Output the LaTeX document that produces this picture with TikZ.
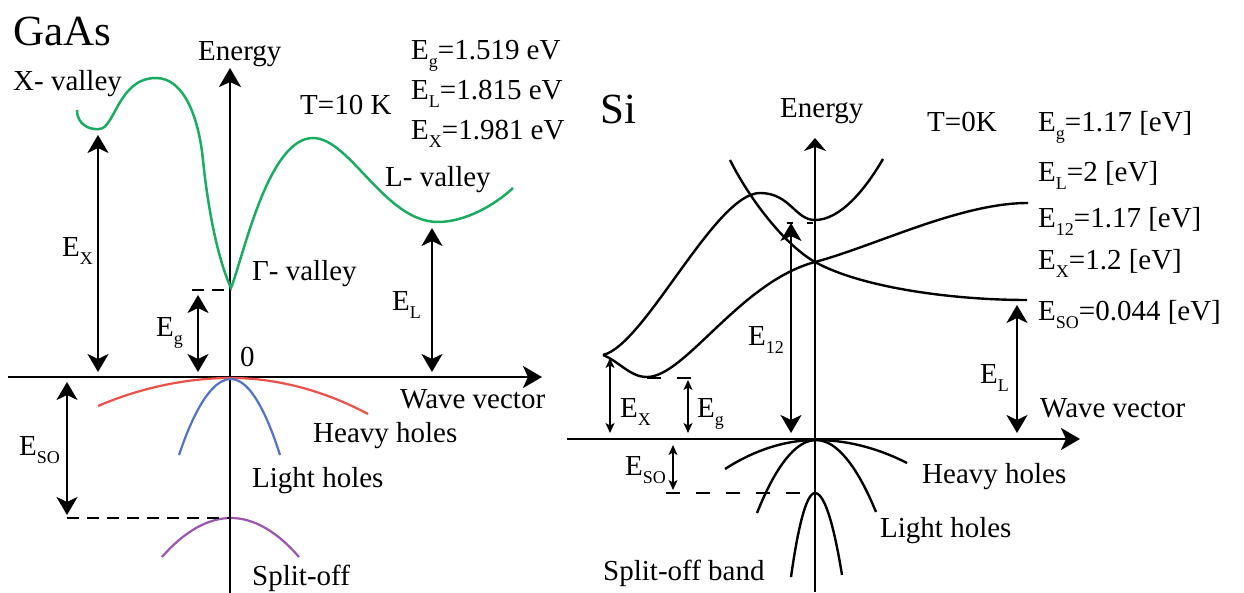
\documentclass[tikz,border=0pt]{standalone}
\usepackage{fontspec}
\IfFontExistsTF{LiberationSerif-Regular.ttf}{\setmainfont{LiberationSerif-Regular.ttf}}{\setmainfont{Liberation Serif}}
\usetikzlibrary{arrows.meta}
\newcommand{\lsub}[1]{\raisebox{-8pt}{\fontsize{18}{18}\selectfont #1}}
\definecolor{gcurve}{RGB}{26,172,96}
\definecolor{rcurve}{RGB}{236,80,72}
\definecolor{bcurve}{RGB}{80,115,195}
\definecolor{pcurve}{RGB}{155,85,175}
\begin{document}
\begin{tikzpicture}[x=1pt,y=-1pt,
  lbl/.style={anchor=base west, inner sep=0pt, font=\fontsize{29}{31}\selectfont},
  big/.style={anchor=base west, inner sep=0pt, font=\fontsize{43}{45}\selectfont},
  axisline/.style={line width=2.6pt, -{Stealth[length=19pt,width=22pt,inset=5pt]}},
  shortaxis/.style={line width=2.4pt, -{Stealth[length=13pt,width=22pt,inset=4pt]}},
  bigdbl/.style={line width=2.4pt, {Stealth[length=18pt,width=21pt,inset=5pt]}-{Stealth[length=18pt,width=21pt,inset=5pt]}},
  smalldbl/.style={line width=1.3pt, {Stealth[length=10pt,width=9pt,inset=2.5pt]}-{Stealth[length=10pt,width=9pt,inset=2.5pt]}},
  gdash/.style={line width=2.2pt, dash pattern=on 12pt off 8pt},
  sdash/.style={line width=1.4pt, dash pattern=on 14pt off 16pt},
  band/.style={line width=2.5pt},
  sband/.style={line width=2.4pt}]
\useasboundingbox (0,0) rectangle (1244,593);
% ---------------- GaAs ----------------
\coordinate (gEbot) at (230,593); \coordinate (gEtop) at (230,68);
\coordinate (gKl) at (8,377); \coordinate (gKr) at (542,377);
\draw[axisline] (gEbot) -- (gEtop);
\draw[axisline] (gKl) -- (gKr);
\draw[gcurve, band] (77,110) .. controls (77,125) and (90,130) .. (99,129)
 .. controls (115,129) and (118,78) .. (156,78)
 .. controls (185,78) and (199,120) .. (203,160)
 .. controls (207,200) and (216,255) .. (231,288)
 .. controls (243,258) and (268,138) .. (313,138)
 .. controls (350,138) and (385,222) .. (438,222)
 .. controls (465,222) and (495,205) .. (513,188);
\draw[rcurve, line width=2.2pt] (98,406) parabola bend (231,378) (368,414);
\draw[bcurve, line width=2.2pt] (179,455) parabola bend (231,379) (280,455);
\draw[pcurve, line width=2.2pt] (162,557) parabola bend (231,518) (299,557);
\coordinate (gX1) at (98,135); \coordinate (gX2) at (98,372);
\coordinate (gg1) at (198,295); \coordinate (gg2) at (198,372);
\coordinate (gL1) at (432,228); \coordinate (gL2) at (432,372);
\coordinate (gS1) at (67,382); \coordinate (gS2) at (67,515);
\draw[bigdbl] (gX1) -- (gX2);
\draw[bigdbl] (gg1) -- (gg2);
\draw[bigdbl] (gL1) -- (gL2);
\draw[bigdbl] (gS1) -- (gS2);
\coordinate (gd1) at (192,290); \coordinate (gd2) at (231,290);
\coordinate (gd3) at (67,518); \coordinate (gd4) at (231,518);
\draw[gdash] (gd1) -- (gd2);
\draw[gdash] (gd3) -- (gd4);
\node[big] (tGaAs) at (13,46) {GaAs};
\node[lbl] (tgEn) at (198,61) {Energy};
\node[lbl] (tXv) at (13,91) {X- valley};
\node[lbl] (tT1) at (300,115) {T=10 K};
\node[lbl] (tg1) at (411,60) {E\lsub{g}=1.519 eV};
\node[lbl] (tg2) at (411,100) {E\lsub{L}=1.815 eV};
\node[lbl] (tg3) at (411,140) {E\lsub{X}=1.981 eV};
\node[lbl] (tLv) at (385,187) {L- valley};
\node[lbl] (tGv) at (252,281) {Γ- valley};
\node[lbl] (tgEX) at (62,257) {E\lsub{X}};
\node[lbl] (tgEg) at (156,337) {E\lsub{g}};
\node[lbl] (tg0) at (240,366) {0};
\node[lbl] (tgEL) at (392,311) {E\lsub{L}};
\node[lbl] (tgWv) at (400,408) {Wave vector};
\node[lbl] (tgHh) at (313,442) {Heavy holes};
\node[lbl] (tgES) at (19,455) {E\lsub{SO}};
\node[lbl] (tgLh) at (252,487) {Light holes};
\node[lbl] (tgSo) at (252,585) {Split-off};
% ---------------- Si ----------------
\coordinate (sEbot) at (815,592); \coordinate (sEtop) at (815,138);
\coordinate (sKl) at (567,439); \coordinate (sKr) at (1080,439);
\draw[shortaxis] (sEbot) -- (sEtop);
\draw[axisline] (sKl) -- (sKr);
\draw[sband] (603,355) .. controls (645,345) and (715,193) .. (760,193)
 .. controls (790,193) and (795,220) .. (815,220)
 .. controls (840,220) and (865,190) .. (883,159);
\draw[sband] (603,355) .. controls (620,362) and (630,377) .. (647,377)
 .. controls (685,377) and (740,282) .. (815,262)
 .. controls (875,246) and (960,203) .. (1028,203);
\draw[sband] (730,160) .. controls (750,200) and (785,245) .. (815,262)
 .. controls (860,287) and (950,300) .. (1027,300);
\draw[sband] (725,469) parabola bend (816,440) (907,463);
\draw[sband] (757,513) parabola bend (816,440) (876,512);
\draw[sband] (791,577) parabola bend (815,493) (842,575);
\coordinate (s121) at (791,223); \coordinate (s122) at (791,433);
\coordinate (sL1) at (1017,305); \coordinate (sL2) at (1017,433);
\coordinate (sX1) at (610,358); \coordinate (sX2) at (610,433);
\coordinate (sg1) at (688,380); \coordinate (sg2) at (688,433);
\coordinate (sS1) at (673,445); \coordinate (sS2) at (673,490);
\draw[bigdbl] (s121) -- (s122);
\draw[bigdbl] (sL1) -- (sL2);
\draw[smalldbl] (sX1) -- (sX2);
\draw[smalldbl] (sg1) -- (sg2);
\draw[smalldbl] (sS1) -- (sS2);
\coordinate (sd1) at (647,378); \coordinate (sd2) at (693,378);
\coordinate (sd3) at (666,493); \coordinate (sd4) at (813,493);
\coordinate (sd5) at (787,223); \coordinate (sd6) at (813,223);
\draw[sdash] (sd1) -- (sd2);
\draw[sdash] (sd3) -- (sd4);
\draw[line width=1.4pt, dash pattern=on 6pt off 14pt] (sd5) -- (sd6);
\node[big] (tSi) at (600,124) {Si};
\node[lbl] (tsEn) at (780,118) {Energy};
\node[lbl] (tT2) at (927,132) {T=0K};
\node[lbl] (ts1) at (1038,132) {E\lsub{g}=1.17 [eV]};
\node[lbl] (ts2) at (1038,182) {E\lsub{L}=2 [eV]};
\node[lbl] (ts3) at (1038,228) {E\lsub{12}=1.17 [eV]};
\node[lbl] (ts4) at (1038,270) {E\lsub{X}=1.2 [eV]};
\node[lbl] (ts5) at (1038,320) {E\lsub{SO}=0.044 [eV]};
\node[lbl] (tsE12) at (748,345) {E\lsub{12}};
\node[lbl] (tsEX) at (620,417) {E\lsub{X}};
\node[lbl] (tsEg) at (697,417) {E\lsub{g}};
\node[lbl] (tsES) at (625,475) {E\lsub{SO}};
\node[lbl] (tsEL) at (980,383) {E\lsub{L}};
\node[lbl] (tsWv) at (1040,417) {Wave vector};
\node[lbl] (tsHh) at (922,483) {Heavy holes};
\node[lbl] (tsLh) at (880,537) {Light holes};
\node[lbl] (tsSo) at (603,580) {Split-off band};
\end{tikzpicture}
\end{document}
